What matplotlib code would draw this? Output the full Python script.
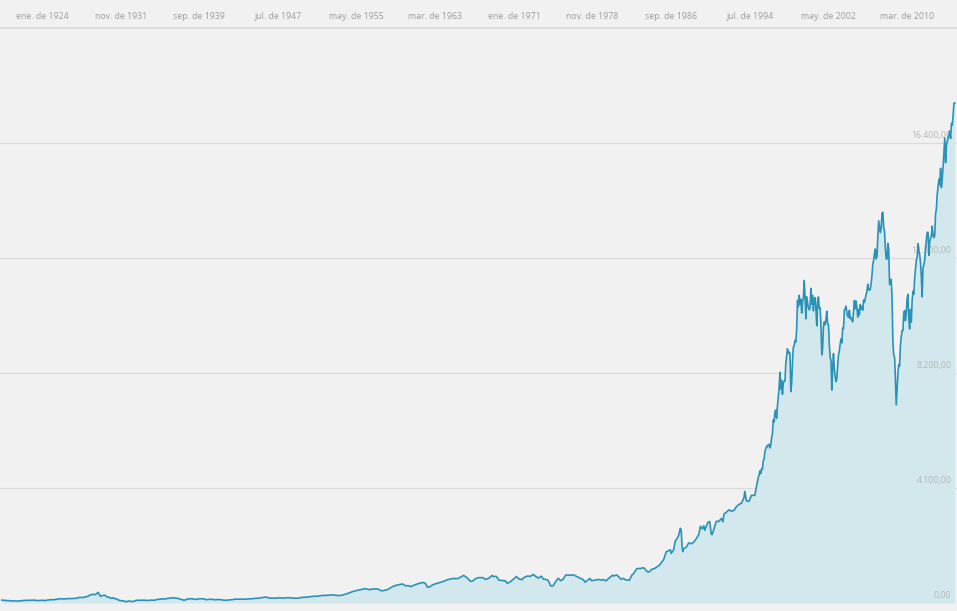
import matplotlib
matplotlib.use("Agg")
import matplotlib.pyplot as plt
import matplotlib.transforms as mtransforms

# Monthly closing values (year-month, value)
months_early = [
    "1920-01", "1920-04", "1920-07", "1920-10", "1920-12", "1921-03", "1921-06", "1921-08", "1921-12",
    "1922-03", "1922-06", "1922-09", "1922-12", "1923-03", "1923-07", "1923-10", "1923-12",
    "1924-03", "1924-05", "1924-08", "1924-12", "1925-03", "1925-06", "1925-09", "1925-12",
    "1926-03", "1926-06", "1926-09", "1926-12", "1927-03", "1927-06", "1927-09", "1927-12",
    "1928-02", "1928-05", "1928-08", "1928-11", "1928-12",
    "1929-03", "1929-05", "1929-08", "1929-09", "1929-10", "1929-11", "1929-12",
    "1930-02", "1930-04", "1930-06", "1930-09", "1930-12", "1931-02", "1931-04", "1931-06", "1931-09", "1931-12",
    "1932-02", "1932-04", "1932-06", "1932-08", "1932-10", "1932-12", "1933-02", "1933-04", "1933-06", "1933-09", "1933-12",
    "1934-03", "1934-07", "1934-12", "1935-03", "1935-07", "1935-12", "1936-04", "1936-08", "1936-12",
    "1937-02", "1937-06", "1937-09", "1937-12", "1938-03", "1938-07", "1938-12",
    "1939-03", "1939-06", "1939-09", "1939-12", "1940-03", "1940-05", "1940-09", "1940-12",
    "1941-04", "1941-08", "1941-12", "1942-04", "1942-08", "1942-12", "1943-04", "1943-08", "1943-12",
    "1944-04", "1944-08", "1944-12", "1945-04", "1945-08", "1945-12", "1946-05", "1946-09", "1946-12",
    "1947-05", "1947-07", "1947-12", "1948-03", "1948-06", "1948-10", "1948-12", "1949-06", "1949-12",
    "1950-06", "1950-12", "1951-06", "1951-12", "1952-06", "1952-12", "1953-04", "1953-09", "1953-12",
    "1954-06", "1954-12", "1955-06", "1955-12", "1956-03", "1956-09", "1956-12", "1957-06", "1957-10", "1957-12",
    "1958-06", "1958-12", "1959-06", "1959-12", "1960-03", "1960-07", "1960-10", "1960-12", "1961-06", "1961-12",
    "1962-03", "1962-06", "1962-09", "1962-12", "1963-06", "1963-12", "1964-06", "1964-12", "1965-06", "1965-12",
    "1966-01", "1966-05", "1966-09", "1966-12", "1967-03", "1967-07", "1967-12", "1968-03", "1968-07", "1968-11", "1968-12",
    "1969-04", "1969-07", "1969-12", "1970-03", "1970-05", "1970-09", "1970-12", "1971-04", "1971-07", "1971-11", "1971-12",
    "1972-05", "1972-09", "1972-12", "1973-03", "1973-06", "1973-10", "1973-12", "1974-03", "1974-06", "1974-09", "1974-12",
    "1975-03", "1975-06", "1975-09", "1975-12", "1976-03", "1976-09", "1976-12", "1977-06", "1977-12",
    "1978-02", "1978-08", "1978-10", "1978-12", "1979-06", "1979-10", "1979-12", "1980-03", "1980-06", "1980-11", "1980-12",
    "1981-04", "1981-09", "1981-12", "1982-03", "1982-07", "1982-10", "1982-12", "1983-04", "1983-09", "1983-12",
    "1984-05", "1984-07", "1984-10", "1984-12", "1985-03", "1985-07", "1985-12", "1986-03", "1986-08", "1986-09", "1986-12",
    "1987-02", "1987-04", "1987-06", "1987-08", "1987-09", "1987-10", "1987-11", "1987-12",
    "1988-03", "1988-06", "1988-09", "1988-12", "1989-03", "1989-06", "1989-08", "1989-10", "1989-12",
    "1990-01", "1990-05", "1990-07", "1990-09", "1990-10", "1990-12", "1991-03", "1991-06", "1991-09", "1991-11", "1991-12",
    "1992-03", "1992-06", "1992-09", "1992-12", "1993-03", "1993-06", "1993-09", "1993-12",
    "1994-01", "1994-03", "1994-06", "1994-09", "1994-12",
]
values_early = [
    104, 93, 87, 85, 72, 75, 68, 67, 81,
    89, 93, 97, 99, 103, 87, 88, 95,
    93, 89, 105, 120, 116, 131, 145, 156,
    140, 154, 158, 157, 161, 166, 197, 200,
    192, 220, 240, 293, 300,
    308, 297, 380, 343, 273, 238, 248,
    272, 279, 226, 204, 165, 190, 151, 150, 97, 78,
    82, 56, 43, 73, 61, 60, 51, 77, 98, 94, 100,
    101, 89, 104, 97, 126, 144, 145, 166, 180,
    187, 169, 154, 121, 99, 142, 155,
    131, 131, 153, 150, 148, 116, 132, 131,
    116, 127, 111, 95, 107, 119, 136, 137, 136,
    137, 147, 152, 165, 174, 193, 212, 172, 177,
    170, 187, 181, 177, 189, 188, 177, 168, 200,
    209, 235, 243, 269, 274, 292, 274, 265, 281,
    334, 404, 451, 488, 512, 475, 500, 503, 441, 436,
    478, 584, 644, 679, 617, 617, 580, 616, 684, 731,
    707, 561, 579, 652, 707, 763, 832, 874, 868, 969,
    983, 900, 774, 786, 866, 904, 905, 840, 883, 985, 944,
    950, 816, 800, 786, 700, 761, 839, 942, 858, 831, 890,
    960, 953, 1020, 951, 891, 956, 851, 847, 803, 608, 616,
    768, 879, 794, 852, 999, 990, 1005, 916, 831,
    742, 876, 793, 805, 842, 816, 839, 786, 868, 993, 964,
    998, 850, 875, 822, 809, 992, 1047, 1226, 1233, 1259,
    1105, 1115, 1207, 1212, 1267, 1348, 1547, 1819, 1898, 1768, 1896,
    2224, 2286, 2419, 2663, 2596, 1994, 1834, 1939,
    1989, 2142, 2113, 2169, 2294, 2440, 2737, 2645, 2753,
    2591, 2877, 2905, 2453, 2442, 2634, 2914, 2907, 3017, 2895, 3169,
    3236, 3319, 3272, 3301, 3436, 3516, 3555, 3754,
    3978, 3636, 3625, 3843, 3834,
]

# From 1995 on every month, January to December
years_late = list(range(1995, 2015))
values_late = [
    [3844, 4011, 4158, 4321, 4465, 4556, 4709, 4611, 4789, 4756, 5075, 5117],
    [5395, 5486, 5588, 5569, 5643, 5655, 5529, 5616, 5882, 6029, 6522, 6448],
    [6813, 6878, 6584, 7009, 7331, 7673, 8223, 7622, 7945, 7442, 7823, 7908],
    [7907, 8546, 8800, 9063, 8900, 8952, 8883, 7539, 7843, 8592, 9117, 9181],
    [9359, 9307, 9786, 10789, 10560, 10971, 10655, 10829, 10337, 10729, 10878, 11497],
    [10940, 10128, 10922, 10734, 10522, 10448, 10522, 11215, 10651, 10971, 10415, 10788],
    [10887, 10495, 9879, 10735, 10912, 10502, 10523, 9950, 8848, 9075, 9852, 10022],
    [9920, 10106, 10404, 9946, 9925, 9243, 8737, 8664, 7592, 8397, 8896, 8342],
    [8054, 7891, 7992, 8480, 8850, 8985, 9234, 9416, 9275, 9801, 9782, 10454],
    [10488, 10584, 10358, 10226, 10188, 10435, 10140, 10174, 10080, 10027, 10428, 10783],
    [10490, 10766, 10504, 10193, 10467, 10275, 10641, 10482, 10569, 10440, 10806, 10718],
    [10865, 10993, 11109, 11367, 11168, 11150, 11186, 11381, 11679, 12081, 12222, 12463],
    [12622, 12269, 12354, 13063, 13628, 13409, 13212, 13358, 13896, 13930, 13372, 13265],
    [12650, 12266, 12263, 12820, 12638, 11350, 11378, 11544, 10851, 9325, 8829, 8776],
    [8001, 7063, 7609, 8168, 8500, 8447, 9172, 9496, 9712, 9713, 10345, 10428],
    [10067, 10325, 10857, 11009, 10137, 9774, 10466, 10015, 10788, 11118, 11006, 11578],
    [11892, 12226, 12320, 12811, 12570, 12414, 12143, 11614, 10913, 11955, 12046, 12218],
    [12633, 12952, 13212, 13214, 12393, 12880, 13009, 13091, 13437, 13096, 13026, 13104],
    [13861, 14054, 14579, 14840, 15116, 14910, 15500, 14810, 15130, 15546, 16086, 16577],
    [15699, 16322, 16458, 16581, 16717, 16827, 16563, 17098, 17043, 17391, 17828, 17823],
]

tick_dates = ["1924-01", "1931-11", "1939-09", "1947-07", "1955-05", "1963-03",
              "1971-01", "1978-11", "1986-09", "1994-07", "2002-05", "2010-03"]
tick_labels = ["ene. de 1924", "nov. de 1931", "sep. de 1939", "jul. de 1947", "may. de 1955", "mar. de 1963",
               "ene. de 1971", "nov. de 1978", "sep. de 1986", "jul. de 1994", "may. de 2002", "mar. de 2010"]
y_ticks = [0, 4100, 8200, 12300, 16400]
y_labels = ["0,00", "4.100,00", "8.200,00", "12.300,00", "16.400,00"]


def to_year(s):
    y, m = s.split("-")
    return int(y) + (int(m) - 1) / 12.0


x = [to_year(s) for s in months_early]
y = list(values_early)
for yr, row in zip(years_late, values_late):
    for i, v in enumerate(row):
        x.append(yr + i / 12.0)
        y.append(v)

BG = "#f1f1f1"
LINE = "#2a92b8"
FILL = "#d3e8ed"

fig = plt.figure(figsize=(9.57, 6.11), dpi=100, facecolor=BG)
ax = fig.add_axes([0, 8 / 611, 1, 575 / 611])
ax.set_facecolor(BG)

ax.fill_between(x, 0, y, color=FILL, lw=0, zorder=2)
ax.plot(x, y, color=LINE, lw=1.2, zorder=4, solid_joinstyle="round")

ax.set_xlim(1924 - 42 / 10.04, 1924 + 915 / 10.04)
ax.set_ylim(0, 20500)

# horizontal grid and value labels on the right
for v, lab in zip(y_ticks[1:], y_labels[1:]):
    ax.axhline(v, color="#dadada", lw=0.9, zorder=1)
trans = mtransforms.blended_transform_factory(ax.transAxes, ax.transData)
for v, lab in zip(y_ticks, y_labels):
    ax.annotate(lab, xy=(1, v), xycoords=trans, xytext=(-4, 2.5), textcoords="offset points",
                ha="right", va="bottom", fontsize=6.3, color="#b5b5b5", family="Open Sans", zorder=3)

ax.set_yticks([])
ax.set_xticks([to_year(s) for s in tick_dates])
ax.set_xticklabels(tick_labels, fontsize=6.3, color="#9c9c9c", family="Open Sans")
ax.xaxis.tick_top()
ax.tick_params(axis="x", length=0, pad=5)

for side in ["left", "right", "bottom"]:
    ax.spines[side].set_visible(False)
ax.spines["top"].set_color("#d8d8d8")
ax.spines["top"].set_linewidth(1.2)

fig.savefig("out.png", dpi=100, facecolor=BG)
